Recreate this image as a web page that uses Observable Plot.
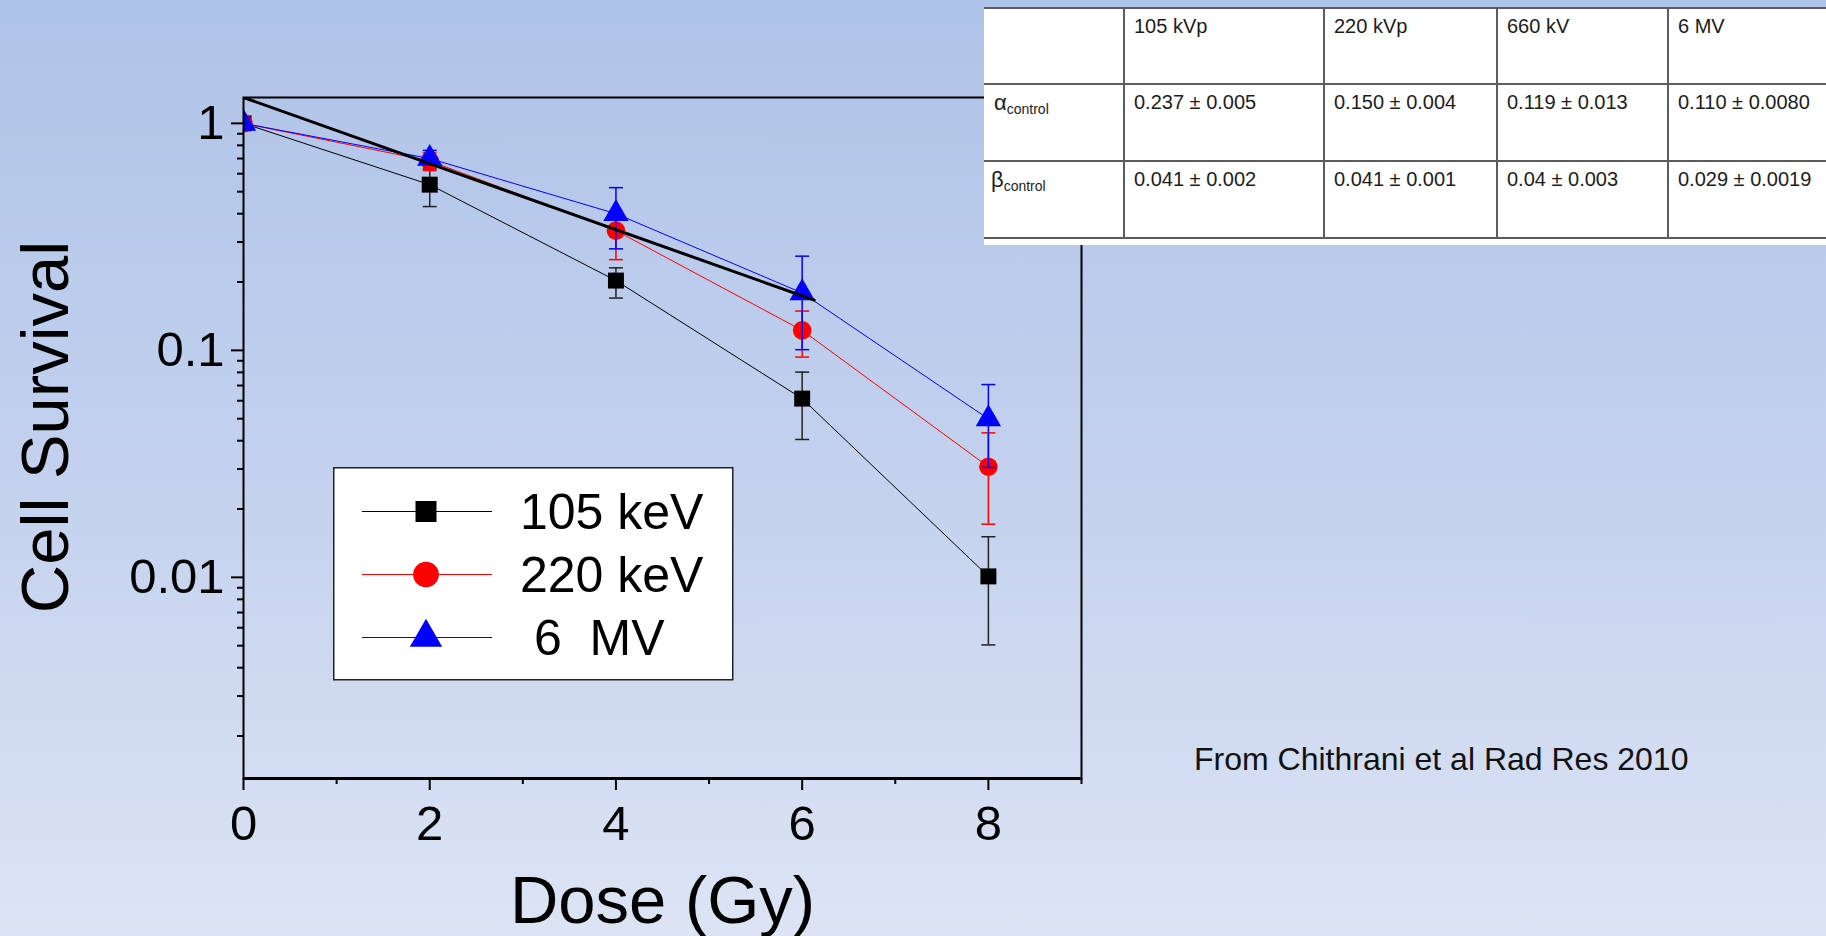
<!DOCTYPE html>
<html>
<head>
<meta charset="utf-8">
<script src="https://cdn.jsdelivr.net/npm/d3@7"></script>
<script src="https://cdn.jsdelivr.net/npm/@observablehq/plot@0.6"></script>
<style>
  html, body { margin: 0; padding: 0; }
  body {
    width: 1826px; height: 936px; overflow: hidden; position: relative;
    background: linear-gradient(180deg, #aec3e8 0%, #c3d1ee 50%, #dce4f4 100%);
    font-family: Arial, "Liberation Sans", sans-serif;
  }
  #chart { position: absolute; left: 0; top: 0; }
  #legend { position: absolute; left: 333px; top: 467px; }
  #params {
    position: absolute; left: 984px; top: 7px; width: 842px; height: 238px;
    background: #fff; overflow: hidden;
  }
  #params table { border-collapse: collapse; table-layout: fixed; width: 884px; }
  #params td {
    border: 2px solid #5c5c5c; vertical-align: top; padding: 6px 0 0 9px;
    font-size: 20px; line-height: 23px; color: #1c1c1c; white-space: nowrap;
  }
  #params td:first-child { border-left: none; padding-left: 10px; }
  #params tr.r0 { height: 76px; }
  #params tr.r1, #params tr.r2 { height: 77px; }
  #params tr.r2 td:first-child { padding-left: 7px; }
  #params .greek { font-size: 22px; }
  #params .sub { font-size: 14px; position: relative; top: 4px; }
  #source {
    position: absolute; left: 1194px; top: 744px;
    font-size: 32px; line-height: 31px; color: #111; white-space: nowrap;
  }
</style>
</head>
<body>
<div id="chart"></div>
<div id="legend"></div>
<div id="params"></div>
<div id="source"></div>
<script>
// Clonogenic survival vs dose for three beam energies (log survival axis)
const doses = [0, 2, 4, 6, 8];
const seriesNames = ["105 keV", "220 keV", "6  MV"];
const legendLabels = ["105 keV", "220 keV", " 6  MV"];

const survival105 = [1.0, 0.537, 0.203, 0.0613, 0.0101];
const survival105Lo = [0.95, 0.43, 0.170, 0.0405, 0.00504];
const survival105Hi = [1.05, 0.63, 0.231, 0.0802, 0.0151];

const survival220 = [1.0, 0.683, 0.337, 0.1225, 0.0307];
const survival220Lo = [0.95, 0.62, 0.251, 0.0934, 0.01715];
const survival220Hi = [1.05, 0.742, 0.41, 0.149, 0.0433];

const survival6MV = [1.0, 0.70, 0.40, 0.179, 0.0499];
const survival6MVLo = [0.95, 0.66, 0.28, 0.1007, 0.0305];
const survival6MVHi = [1.05, 0.76, 0.521, 0.26, 0.0707];

// straight reference fit drawn over the data
const fitDose = [0, 6.13];
const fitSurvival = [1.3, 0.1665];

const xTicks = [0, 2, 4, 6, 8];
const xMinorTicks = [1, 3, 5, 7, 9];
const yTicks = [1, 0.1, 0.01];
const yTickLabels = ["1", "0.1", "0.01"];
const yMinorTicks = [
  0.002, 0.003, 0.004, 0.005, 0.006, 0.007, 0.008, 0.009,
  0.02, 0.03, 0.04, 0.05, 0.06, 0.07, 0.08, 0.09,
  0.2, 0.3, 0.4, 0.5, 0.6, 0.7, 0.8, 0.9
];

// LQ parameters table
const paramHeaders = ["105 kVp", "220 kVp", "660 kV", "6 MV"];
const alphaValues = ["0.237 ± 0.005", "0.150 ± 0.004", "0.119 ± 0.013", "0.110 ± 0.0080"];
const betaValues = ["0.041 ± 0.002", "0.041 ± 0.001", "0.04 ± 0.003", "0.029 ± 0.0019"];
const sourceNote = "From Chithrani et al Rad Res 2010";

const series = [
  {name: seriesNames[0], color: "#000000", bar: "#222222", symbol: "square", r: 9.0, legendSize: 441,
   values: survival105, lo: survival105Lo, hi: survival105Hi},
  {name: seriesNames[1], color: "#ff0000", bar: "#ff0000", symbol: "circle", r: 9.3, legendSize: 519,
   values: survival220, lo: survival220Lo, hi: survival220Hi},
  {name: seriesNames[2], color: "#0000ff", bar: "#0000ff", symbol: "triangle", r: 9.4, legendSize: 453,
   values: survival6MV, lo: survival6MVLo, hi: survival6MVHi}
];

const rowsOf = s => doses.map((d, i) => ({dose: d, s: s.values[i], lo: s.lo[i], hi: s.hi[i], name: s.name}));
const fitRows = fitDose.map((d, i) => ({dose: d, s: fitSurvival[i]}));

// horizontal cap for error bars
const capSymbol = {draw(ctx) { ctx.moveTo(-7, 0); ctx.lineTo(7, 0); }};

const seriesMarks = series.flatMap(s => {
  const data = rowsOf(s);
  return [
    Plot.line(data, {x: "dose", y: "s", stroke: s.color, strokeWidth: 1, clip: true}),
    Plot.ruleX(data, {x: "dose", y1: "lo", y2: "hi", stroke: s.bar, strokeWidth: 1.5, clip: true}),
    Plot.dot(data, {x: "dose", y: "lo", symbol: capSymbol, fill: "none", stroke: s.bar, strokeWidth: 1.5, clip: true}),
    Plot.dot(data, {x: "dose", y: "hi", symbol: capSymbol, fill: "none", stroke: s.bar, strokeWidth: 1.5, clip: true}),
    Plot.dot(data, {x: "dose", y: "s", symbol: s.symbol, r: s.r, fill: s.color, stroke: "none", clip: true})
  ];
});

const yLabelOf = new Map(yTicks.map((t, i) => [t, yTickLabels[i]]));
const font = 'Arial, "Liberation Sans", sans-serif';

const chart = Plot.plot({
  width: 1826,
  height: 936,
  marginLeft: 243,
  marginRight: 745,
  marginTop: 97,
  marginBottom: 158,
  x: {type: "linear", domain: [0, 9]},
  y: {type: "log", domain: [0.0013, 1.3]},
  style: {background: "transparent", color: "black", fontFamily: font, overflow: "visible"},
  marks: [
    ...seriesMarks,
    Plot.line(fitRows, {x: "dose", y: "s", stroke: "black", strokeWidth: 3, clip: true}),
    Plot.frame({stroke: "black", strokeWidth: 2}),
    Plot.ruleY([0.0013], {stroke: "black", strokeWidth: 3}),
    Plot.axisX(xTicks, {tickSize: 12, tickPadding: 15, fontSize: 49, strokeWidth: 2, label: null,
      tickFormat: d => String(d)}),
    Plot.axisX(xMinorTicks, {tickSize: 6, strokeWidth: 2, label: null, tickFormat: () => ""}),
    Plot.axisY(yTicks, {tickSize: 12, tickPadding: 7, fontSize: 49, strokeWidth: 2, label: null,
      tickFormat: d => yLabelOf.get(d)}),
    Plot.axisY(yMinorTicks, {tickSize: 6, strokeWidth: 2, label: null, tickFormat: () => ""}),
    Plot.text(["Cell Survival"], {frameAnchor: "left", rotate: -90, lineAnchor: "bottom",
      textAnchor: "middle", dx: -176, dy: -11, fontSize: 67, fill: "black"}),
    Plot.text(["Dose (Gy)"], {frameAnchor: "bottom", lineAnchor: "bottom",
      dy: 144, fontSize: 67, fill: "black"})
  ]
});
document.getElementById("chart").append(chart);

// legend box
const lg = d3.select("#legend").append("svg").attr("width", 402).attr("height", 215);
lg.append("rect").attr("x", 0.75).attr("y", 0.75).attr("width", 399).attr("height", 212)
  .attr("fill", "#fff").attr("stroke", "#222").attr("stroke-width", 1.5);
const rowY = [44.5, 107.5, 170.5];
const symbolTypes = {square: d3.symbolSquare, circle: d3.symbolCircle, triangle: d3.symbolTriangle};
series.forEach((s, i) => {
  const g = lg.append("g").attr("transform", `translate(0,${rowY[i]})`);
  g.append("line").attr("x1", 29).attr("x2", 159).attr("y1", 0).attr("y2", 0)
    .attr("stroke", s.color).attr("stroke-width", 1.2);
  g.append("path").attr("transform", "translate(93,0)")
    .attr("d", d3.symbol(symbolTypes[s.symbol], s.legendSize)()).attr("fill", s.color);
  g.append("text").attr("x", 187).attr("y", 17.8).attr("font-size", 50).attr("font-family", font)
    .attr("fill", "#000").style("white-space", "pre").text(legendLabels[i]);
});

// parameter table
const table = d3.select("#params").append("table");
const cols = table.append("colgroup");
[140, 200, 173, 171, 200].forEach(w => cols.append("col").style("width", w + "px"));
const r0 = table.append("tr").attr("class", "r0");
r0.append("td");
paramHeaders.forEach(h => r0.append("td").text(h));
const r1 = table.append("tr").attr("class", "r1");
const a = r1.append("td");
a.append("span").attr("class", "greek").text("α");
a.append("span").attr("class", "sub").text("control");
alphaValues.forEach(v => r1.append("td").text(v));
const r2 = table.append("tr").attr("class", "r2");
const b = r2.append("td");
b.append("span").attr("class", "greek").text("β");
b.append("span").attr("class", "sub").text("control");
betaValues.forEach(v => r2.append("td").text(v));

document.getElementById("source").textContent = sourceNote;
</script>
</body>
</html>
